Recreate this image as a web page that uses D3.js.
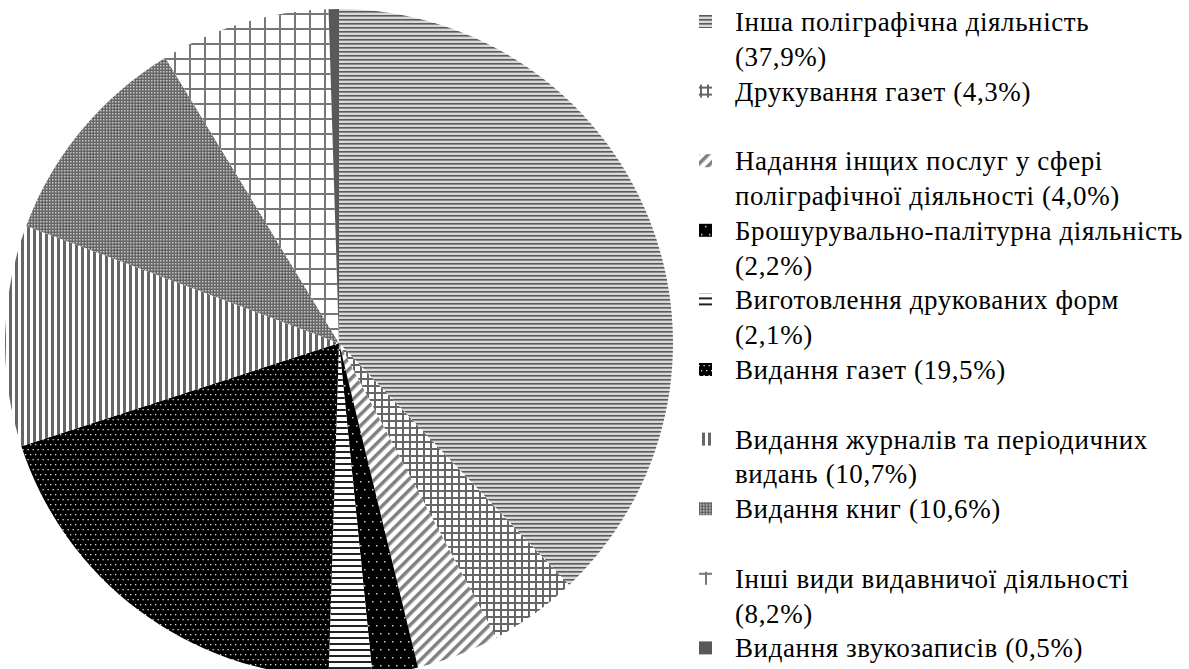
<!DOCTYPE html>
<html>
<head>
<meta charset="utf-8">
<script src="https://cdn.jsdelivr.net/npm/d3@7"></script>
<style>
  body { margin: 0; background: #fff; }
  svg { display: block; }
</style>
</head>
<body>
<div id="chart"></div>
<script>
// chart data
var categories = [
  "Інша поліграфічна діяльність",
  "Друкування газет",
  "Надання інщих послуг у сфері поліграфічної діяльності",
  "Брошурувально-палітурна діяльність",
  "Виготовлення друкованих форм",
  "Видання газет",
  "Видання журналів та періодичних видань",
  "Видання книг",
  "Інші види видавничої діяльності",
  "Видання звукозаписів"
];
var values = [37.9, 4.3, 4.0, 2.2, 2.1, 19.5, 10.7, 10.6, 8.2, 0.5];
// legend text as it wraps in the original
var legendLines = [
  ["Інша поліграфічна діяльність", "(37,9%)"],
  ["Друкування газет (4,3%)"],
  ["Надання інщих послуг у сфері", "поліграфічної діяльності (4,0%)"],
  ["Брошурувально-палітурна діяльність", "(2,2%)"],
  ["Виготовлення друкованих форм", "(2,1%)"],
  ["Видання газет (19,5%)"],
  ["Видання журналів та періодичних", "видань (10,7%)"],
  ["Видання книг (10,6%)"],
  ["Інші види видавничої діяльності", "(8,2%)"],
  ["Видання звукозаписів (0,5%)"]
];

var w = 1189, h = 669;
var cx = 339, cy = 343, radius = 334;
var fontStack = "'Liberation Serif', 'Times New Roman', Tinos, 'DejaVu Serif', serif";

var svg = d3.select("#chart").append("svg")
  .attr("width", w)
  .attr("height", h);

var defs = svg.append("defs");

// fill patterns, one per slice
function pattern(id, size, draw) {
  var p = defs.append("pattern")
    .attr("id", id)
    .attr("patternUnits", "userSpaceOnUse")
    .attr("width", size[0])
    .attr("height", size[1]);
  draw(p);
}

// 0: narrow horizontal lines
pattern("p0", [4, 4], function(p) {
  p.append("rect").attr("width", 4).attr("height", 4).attr("fill", "#d9d9d9");
  p.append("rect").attr("width", 4).attr("height", 1.6).attr("fill", "#5a5a5a");
});
// 1: medium grid
pattern("p1", [7, 7], function(p) {
  p.append("rect").attr("width", 7).attr("height", 7).attr("fill", "#fff");
  p.append("rect").attr("width", 7).attr("height", 2).attr("fill", "#666");
  p.append("rect").attr("width", 2).attr("height", 7).attr("fill", "#666");
});
// 2: wide diagonal stripes
pattern("p2", [8, 8], function(p) {
  p.attr("patternTransform", "rotate(45)");
  p.append("rect").attr("width", 8).attr("height", 8).attr("fill", "#fff");
  p.append("rect").attr("width", 3.5).attr("height", 8).attr("fill", "#808080");
});
// 3: black with sparse dots
pattern("p3", [8, 16], function(p) {
  p.append("rect").attr("width", 8).attr("height", 16).attr("fill", "#000");
  p.append("rect").attr("x", 1).attr("y", 2).attr("width", 1.5).attr("height", 1.5).attr("fill", "#ccc");
  p.append("rect").attr("x", 5).attr("y", 10).attr("width", 1.5).attr("height", 1.5).attr("fill", "#ccc");
});
// 4: white with dark horizontal lines
pattern("p4", [6, 6], function(p) {
  p.append("rect").attr("width", 6).attr("height", 6).attr("fill", "#fff");
  p.append("rect").attr("width", 6).attr("height", 2).attr("fill", "#222");
});
// 5: black with dense dots
pattern("p5", [5, 10], function(p) {
  p.append("rect").attr("width", 5).attr("height", 10).attr("fill", "#000");
  p.append("rect").attr("x", 1).attr("y", 1).attr("width", 1.3).attr("height", 1.3).attr("fill", "#ddd");
  p.append("rect").attr("x", 3.5).attr("y", 6).attr("width", 1.3).attr("height", 1.3).attr("fill", "#ddd");
});
// 6: vertical stripes
pattern("p6", [6, 6], function(p) {
  p.append("rect").attr("width", 6).attr("height", 6).attr("fill", "#fff");
  p.append("rect").attr("width", 3).attr("height", 6).attr("fill", "#666");
});
// 7: small grid
pattern("p7", [3, 3], function(p) {
  p.append("rect").attr("width", 3).attr("height", 3).attr("fill", "#666");
  p.append("rect").attr("x", 1).attr("y", 1).attr("width", 1.5).attr("height", 1.5).attr("fill", "#c8c8c8");
});
// 8: large grid
pattern("p8", [15, 15], function(p) {
  p.append("rect").attr("width", 15).attr("height", 15).attr("fill", "#fff");
  p.append("rect").attr("width", 15).attr("height", 2).attr("fill", "#777");
  p.append("rect").attr("width", 2).attr("height", 15).attr("fill", "#777");
});
// 9: solid
pattern("p9", [4, 4], function(p) {
  p.append("rect").attr("width", 4).attr("height", 4).attr("fill", "#595959");
});

var fills = categories.map(function(d, i) { return "url(#p" + i + ")"; });

// pie
var pie = d3.pie().sort(null).value(function(d) { return d; });
var arc = d3.arc().innerRadius(0).outerRadius(radius);

var g = svg.append("g").attr("transform", "translate(" + cx + "," + cy + ")");
g.selectAll("path")
  .data(pie(values))
  .enter()
  .append("path")
  .attr("d", arc)
  .attr("fill", function(d, i) { return fills[i]; });

// legend
var rowH = 34.8;
var legend = svg.append("g").attr("class", "legend");
var items = legend.selectAll("g.item")
  .data(legendLines)
  .enter()
  .append("g")
  .attr("class", "item")
  .attr("transform", function(d, i) { return "translate(0," + (31 + i * 2 * rowH) + ")"; });

items.append("rect")
  .attr("x", 699)
  .attr("y", -16)
  .attr("width", 13)
  .attr("height", 13)
  .attr("fill", function(d, i) { return fills[i]; });

items.each(function(lines) {
  var t = d3.select(this);
  lines.forEach(function(line, k) {
    t.append("text")
      .attr("x", 735)
      .attr("y", k * rowH)
      .attr("font-family", fontStack)
      .attr("font-size", 27)
      .attr("letter-spacing", 0.6)
      .attr("fill", "#000")
      .text(line);
  });
});
</script>
</body>
</html>
